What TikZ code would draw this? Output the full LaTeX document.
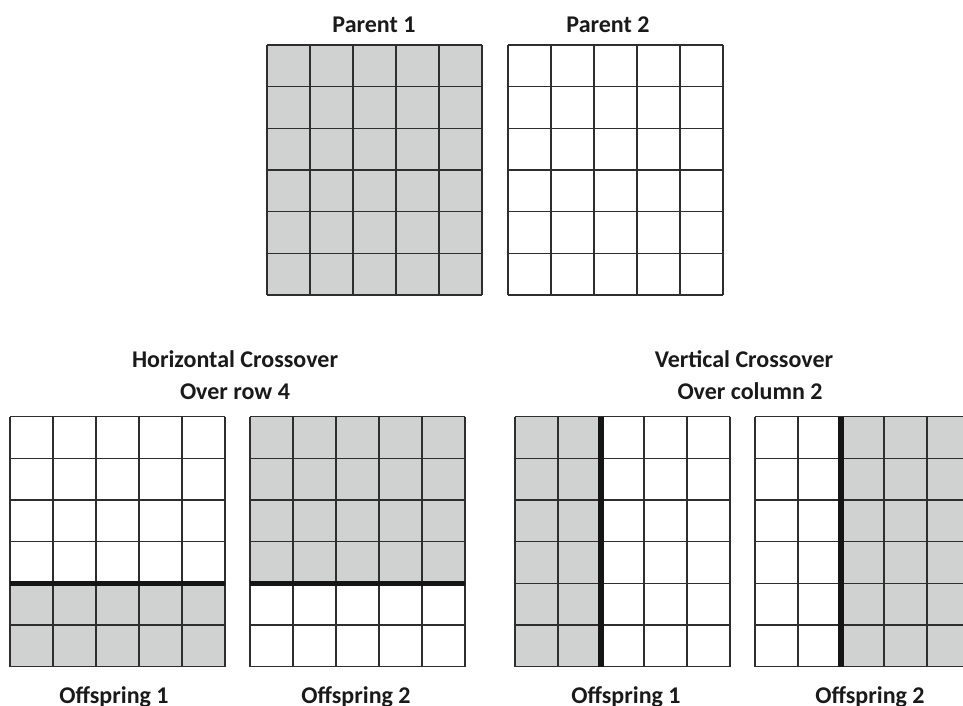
\documentclass[tikz,border=0pt]{standalone}
\usepackage{fontspec}
\setmainfont{Carlito}
\definecolor{cellgray}{HTML}{D0D2D1}
\definecolor{linegray}{HTML}{2E2E2E}
\definecolor{cutblack}{HTML}{151515}
\definecolor{labelblack}{HTML}{1A1A1A}
\tikzset{
  cellline/.style={draw=linegray, line width=1.5pt},
  cutline/.style={draw=cutblack, line width=5.5pt},
  shade/.style={fill=cellgray},
  lbl/.style={font=\bfseries\fontsize{24}{28}\selectfont, text=labelblack,
              inner sep=0pt, anchor=base}
}
% one chromosome sheet: 5 columns (43 wide) by 6 rows (41.667 high), top-left at (#1,#2)
\newcommand{\sheetgrid}[2]{%
  \foreach \c in {0,...,5}{\draw[cellline] ({#1+43*\c},#2) -- ({#1+43*\c},{#2+250});}
  \foreach \r in {0,...,6}{\draw[cellline] (#1,{#2+250*\r/6}) -- ({#1+215},{#2+250*\r/6});}
}
\begin{document}
\begin{tikzpicture}[x=1pt,y=-1pt]
  \useasboundingbox (0,0) rectangle (963,705);
  \clip (0,0) rectangle (963,705);

  % parents
  \fill[shade] (267,45) rectangle (482,295);
  \sheetgrid{267}{45}
  \sheetgrid{508}{45}
  \node[lbl] (p1) at (374,32) {Parent 1};
  \node[lbl] (p2) at (608,32) {Parent 2};

  % horizontal crossover over row 4
  \fill[shade] (10,{416.667+4*250/6}) rectangle (225,666.667);
  \sheetgrid{10}{416.667}
  \draw[cutline] (10,{416.667+4*250/6}) -- (225,{416.667+4*250/6});
  \fill[shade] (250,416.667) rectangle (465,{416.667+4*250/6});
  \sheetgrid{250}{416.667}
  \draw[cutline] (250,{416.667+4*250/6}) -- (465,{416.667+4*250/6});
  \node[lbl] (hc1) at (235,367) {Horizontal Crossover};
  \node[lbl] (hc2) at (235,399) {Over row 4};
  \node[lbl] (ho1) at (114,703) {Offspring 1};
  \node[lbl] (ho2) at (356,703) {Offspring 2};

  % vertical crossover over column 2
  \fill[shade] (515,416.667) rectangle (601,666.667);
  \sheetgrid{515}{416.667}
  \draw[cutline] (601,416.667) -- (601,666.667);
  \fill[shade] (841,416.667) rectangle (970,666.667);
  \sheetgrid{755}{416.667}
  \draw[cutline] (841,416.667) -- (841,666.667);
  \node[lbl] (vc1) at (744,367) {Vertical Crossover};
  \node[lbl] (vc2) at (750,399) {Over column 2};
  \node[lbl] (vo1) at (626,703) {Offspring 1};
  \node[lbl] (vo2) at (870,703) {Offspring 2};
\end{tikzpicture}
\end{document}
